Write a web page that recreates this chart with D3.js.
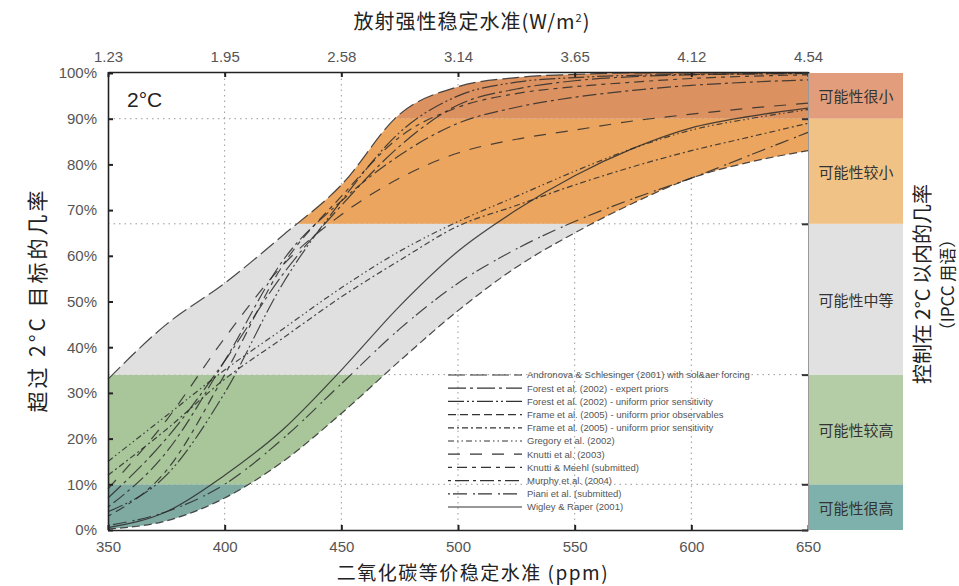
<!DOCTYPE html>
<html>
<head>
<meta charset="utf-8">
<script src="https://cdn.jsdelivr.net/npm/d3@7"></script>
<style>
body { margin: 0; background: #fff; }
text { font-family: "Liberation Sans", Arial, sans-serif; }
.cjk { font-family: "Noto Sans CJK SC", sans-serif; }
</style>
</head>
<body>
<div id="chart"></div>
<script>
// values
var ppm = [350, 375, 400, 425, 450, 475, 500, 525, 550, 575, 600, 625, 650];
var ppmTicks = [350, 400, 450, 500, 550, 600, 650];
var forcingLabels = ["1.23", "1.95", "2.58", "3.14", "3.65", "4.12", "4.54"];
var pctTicks = [0, 10, 20, 30, 40, 50, 60, 70, 80, 90, 100];
var bandEdges = [0, 10, 34, 67, 90, 100];
var bandNames = ["可能性很高", "可能性较高", "可能性中等", "可能性较小", "可能性很小"];

var seriesNames = [
    "Andronova & Schlesinger (2001) with sol&aer forcing",
    "Forest et al. (2002) - expert priors",
    "Forest et al. (2002) - uniform prior sensitivity",
    "Frame et al. (2005) - uniform prior observables",
    "Frame et al. (2005) - uniform prior sensitivity",
    "Gregory et al. (2002)",
    "Knutti et al. (2003)",
    "Knutti & Meehl (submitted)",
    "Murphy et al. (2004)",
    "Piani et al. (submitted)",
    "Wigley & Raper (2001)"];

var andronova    = [33, 45, 54, 64.5, 75.5, 91, 97, 99, 99.7, 100, 100, 100, 100];
var forestExpert = [7, 20, 37, 56, 71, 84, 93, 96.5, 98.3, 99.2, 99.6, 99.8, 99.9];
var forestUnif   = [4, 12, 30, 54, 72, 87, 95, 98, 99, 99.5, 99.7, 99.8, 99.9];
var frameObs     = [0.2, 2, 7, 15, 25.5, 37, 48, 57.5, 65, 71.5, 77, 80.5, 83];
var frameSens    = [12, 22, 33, 42, 51, 59, 66.5, 71, 75.5, 79.5, 83, 86, 89];
var gregory      = [15, 25, 35, 44, 53, 61, 67.5, 73, 78.5, 83.5, 87.5, 90, 92];
var knutti       = [9, 24, 42, 58, 69, 77, 82.5, 85.5, 87.5, 89.5, 91, 92.3, 93.4];
var knuttiMeehl  = [3, 13, 34, 58, 73, 86, 92.5, 95.5, 97, 98, 98.8, 99.3, 99.6];
var murphy       = [5, 17, 37, 59, 72, 82, 89, 92.5, 94.7, 96.2, 97.3, 98, 98.5];
var piani        = [1, 4, 10, 20, 32, 44, 54, 61.5, 67.5, 72.5, 77, 82, 87];
var wigley       = [0.5, 4, 12, 22, 35, 49, 61, 70, 77.5, 83.5, 88, 90.5, 92.3];

var series = [andronova, forestExpert, forestUnif, frameObs, frameSens, gregory,
    knutti, knuttiMeehl, murphy, piani, wigley];

// styles
var dashes = ["17,5", "18,4,3,4", "16,3,2,3,2,3", "8,4", "6,3,2,3", "6,3,1.5,3,1.5,3",
    "12,10", "4,5,10,5", "3,4,14,4", "2,3,14,6", null];
var plotColors = ["#7faaa2", "#a8c69a", "#e0e0e0", "#eba55e", "#db9260"];
var bandColors = ["#7eb1ab", "#b5cda6", "#e1e1e1", "#f1c285", "#e29e7c"];

var width = 959, height = 586;
var svg = d3.select("#chart").append("svg")
    .attr("width", width)
    .attr("height", height);

var x = d3.scaleLinear().domain([350, 650]).range([108, 808]);
var y = d3.scaleLinear().domain([0, 100]).range([530, 73]);

// dotted grid
svg.append("g").selectAll("line")
    .data(ppmTicks.slice(1, -1))
    .enter().append("line")
    .attr("x1", function(d) { return x(d); })
    .attr("x2", function(d) { return x(d); })
    .attr("y1", y(100)).attr("y2", y(0))
    .attr("stroke", "#999").attr("stroke-dasharray", "1.5,4");

svg.append("g").selectAll("line")
    .data(bandEdges.slice(1, -1))
    .enter().append("line")
    .attr("x1", x(350)).attr("x2", x(650))
    .attr("y1", function(d) { return y(d); })
    .attr("y2", function(d) { return y(d); })
    .attr("stroke", "#999").attr("stroke-dasharray", "1.5,4");

// envelope of all curves, coloured by band
var upper = ppm.map(function(d, i) { return d3.max(series, function(s) { return s[i]; }); });
var lower = ppm.map(function(d, i) { return d3.min(series, function(s) { return s[i]; }); });

var envArea = d3.area()
    .x(function(d, i) { return x(ppm[i]); })
    .y0(function(d, i) { return y(lower[i]); })
    .y1(function(d, i) { return y(upper[i]); })
    .curve(d3.curveMonotoneX);

svg.append("defs").append("clipPath").attr("id", "env")
    .append("path").attr("d", envArea(ppm));

svg.append("g").attr("clip-path", "url(#env)")
    .selectAll("rect")
    .data(d3.range(bandNames.length))
    .enter().append("rect")
    .attr("x", x(350))
    .attr("width", x(650) - x(350))
    .attr("y", function(i) { return y(bandEdges[i + 1]); })
    .attr("height", function(i) { return y(bandEdges[i]) - y(bandEdges[i + 1]); })
    .attr("fill", function(i) { return plotColors[i]; });

// curves
var line = d3.line()
    .x(function(d, i) { return x(ppm[i]); })
    .y(function(d) { return y(d); })
    .curve(d3.curveMonotoneX);

svg.append("g").selectAll("path")
    .data(series)
    .enter().append("path")
    .attr("d", line)
    .attr("fill", "none")
    .attr("stroke", "#2b2b2b")
    .attr("stroke-opacity", 0.85)
    .attr("stroke-width", 1.2)
    .attr("stroke-dasharray", function(d, i) { return dashes[i]; });

// axes
var leftAxis = svg.append("g")
    .attr("transform", "translate(" + x(350) + ",0)")
    .call(d3.axisLeft(y).tickValues(pctTicks)
        .tickFormat(function(d) { return d + "%"; })
        .tickSizeInner(-5).tickSizeOuter(0).tickPadding(11));

var bottomAxis = svg.append("g")
    .attr("transform", "translate(0," + y(0) + ")")
    .call(d3.axisBottom(x).tickValues(ppmTicks)
        .tickSizeInner(-5).tickSizeOuter(0).tickPadding(11));

var topAxis = svg.append("g")
    .attr("transform", "translate(0," + (y(100) - 1) + ")")
    .call(d3.axisTop(x).tickValues(ppmTicks)
        .tickFormat(function(d, i) { return forcingLabels[i]; })
        .tickSizeInner(-5).tickSizeOuter(0).tickPadding(10));

[leftAxis, bottomAxis, topAxis].forEach(function(g) {
    g.select(".domain").attr("stroke", "#222").attr("stroke-width", 1.6);
    g.selectAll(".tick line").attr("stroke", "#222").attr("stroke-width", 2);
    g.selectAll(".tick text").attr("fill", "#555").attr("font-size", 15)
        .attr("font-family", "Liberation Sans, Arial, sans-serif");
});

var rightAxis = svg.append("g")
    .attr("transform", "translate(" + x(650) + ",0)")
    .call(d3.axisRight(y).tickValues(bandEdges)
        .tickFormat("").tickSizeInner(-6).tickSizeOuter(0));
rightAxis.select(".domain").attr("stroke", "#999").attr("stroke-width", 1);
rightAxis.selectAll(".tick line").attr("stroke", "#333").attr("stroke-width", 2);

// likelihood column on the right
var bx = x(650) + 1, bw = 94;
svg.append("g").selectAll("rect")
    .data(d3.range(bandNames.length))
    .enter().append("rect")
    .attr("x", bx)
    .attr("width", bw)
    .attr("y", function(i) { return y(bandEdges[i + 1]); })
    .attr("height", function(i) { return y(bandEdges[i]) - y(bandEdges[i + 1]); })
    .attr("fill", function(i) { return bandColors[i]; });

svg.append("g").selectAll("text")
    .data(bandNames)
    .enter().append("text")
    .attr("class", "cjk")
    .attr("x", bx + bw / 2)
    .attr("y", function(d, i) { return (y(bandEdges[i]) + y(bandEdges[i + 1])) / 2; })
    .attr("text-anchor", "middle")
    .attr("dominant-baseline", "central")
    .attr("font-size", 15)
    .attr("fill", "#333")
    .text(function(d) { return d; });

// titles
svg.append("text")
    .attr("x", 127).attr("y", 107)
    .attr("font-size", 21).attr("fill", "#222")
    .text("2°C");

var topTitle = svg.append("text").attr("class", "cjk")
    .attr("x", 472).attr("y", 29)
    .attr("text-anchor", "middle")
    .attr("font-size", 20).attr("letter-spacing", 1).attr("fill", "#222");
topTitle.append("tspan").text("放射强性稳定水准(W/m");
topTitle.append("tspan").attr("font-size", 11).attr("dy", -7).text("2");
topTitle.append("tspan").attr("dy", 7).text(")");

svg.append("text").attr("class", "cjk")
    .attr("x", 473).attr("y", 580)
    .attr("text-anchor", "middle")
    .attr("font-size", 19).attr("letter-spacing", 1.5).attr("fill", "#222")
    .text("二氧化碳等价稳定水准 (ppm)");

svg.append("text").attr("class", "cjk")
    .attr("transform", "translate(45,300) rotate(-90)")
    .attr("text-anchor", "middle")
    .attr("font-size", 21).attr("letter-spacing", 3).attr("fill", "#222")
    .text("超过 2°C 目标的几率");

svg.append("text").attr("class", "cjk")
    .attr("transform", "translate(930,284) rotate(-90)")
    .attr("text-anchor", "middle")
    .attr("font-size", 20).attr("fill", "#222")
    .text("控制在 2°C 以内的几率");

svg.append("text").attr("class", "cjk")
    .attr("transform", "translate(954,285) rotate(-90)")
    .attr("text-anchor", "middle")
    .attr("font-size", 17).attr("fill", "#222")
    .text("（IPCC 用语）");

// legend
var lx = 448, ly = 375, lstep = 13.2;
var legend = svg.append("g").selectAll("g")
    .data(seriesNames)
    .enter().append("g")
    .attr("transform", function(d, i) { return "translate(" + lx + "," + (ly + i * lstep) + ")"; });

legend.append("line")
    .attr("x1", 0).attr("x2", 74)
    .attr("stroke", "#333").attr("stroke-width", 1.2)
    .attr("stroke-dasharray", function(d, i) { return dashes[i]; });

legend.append("text")
    .attr("x", 79).attr("dy", "0.35em")
    .attr("font-size", 9.5).attr("fill", "#555")
    .text(function(d) { return d; });
</script>
</body>
</html>
